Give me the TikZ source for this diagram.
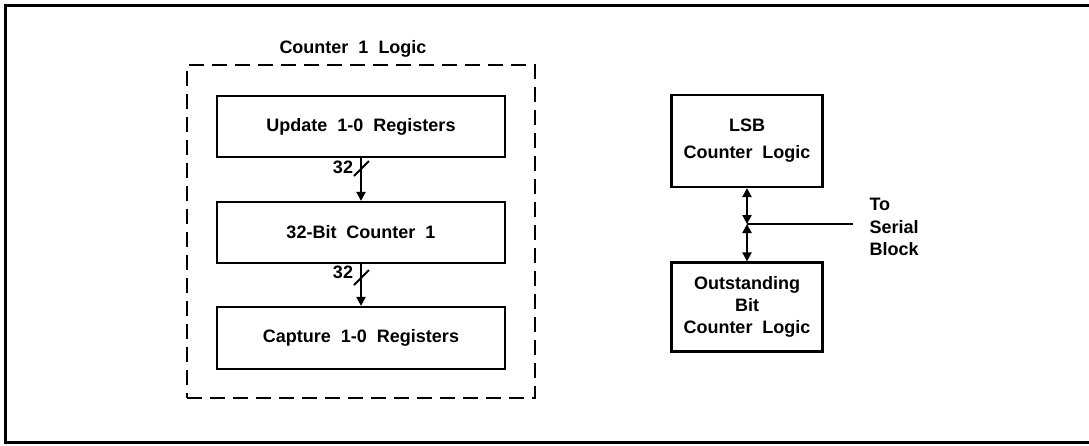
\documentclass[tikz,border=0pt]{standalone}
\usepackage{fontspec}
\setmainfont{Liberation Sans}[WordSpace=2]
\usetikzlibrary{arrows.meta}
\begin{document}
\begin{tikzpicture}[x=1pt,y=-1pt,
  every node/.style={font=\fontsize{18}{22}\selectfont\bfseries},
  block/.style={draw,line width=2.2pt,rectangle,inner sep=0pt,align=center},
  wide/.style={block,minimum width=288pt,minimum height=61pt},
  side/.style={block,minimum width=151pt},
  group/.style={draw,line width=2.2pt,dash pattern=on 15pt off 8pt,minimum width=348pt,minimum height=333pt,inner sep=0pt},
  bus/.style={line width=2.2pt,-{Triangle[length=9pt,width=9pt]}},
  bibus/.style={line width=2.2pt,{Triangle[length=9pt,width=9pt]}-{Triangle[length=9pt,width=9pt]}},
  tick/.style={line width=2pt}]
\useasboundingbox (0,0) rectangle (1089,445);
% outer frame
\draw[line width=3pt] (5,5) rectangle (1096,442);

% counter 1 group
\node[group] (grp) at (361,231.5) {};
\node (grptitle) at (353,49) {Counter 1 Logic};
\node[wide] (upd) at (361,126.5) {Update 1-0 Registers};
\node[wide] (cnt) at (361,232.5) {32-Bit Counter 1};
\node[wide,minimum height=62pt] (cap) at (361,338) {Capture 1-0 Registers};

\draw[bus] (upd.south) -- (cnt.north);
\draw[bus] (cnt.south) -- (cap.north);
% bus width marks
\draw[tick] (354,176) -- (369,161);
\node (w1) at (343,167) {32};
\draw[tick] (354,285) -- (369,270);
\node (w2) at (343,272) {32};

% right-hand blocks
\node[side,minimum height=92pt] (lsb) at (747,141) {LSB\\[5pt]Counter Logic};
\node[side,minimum height=89pt] (osb) at (747,307) {Outstanding\\Bit\\Counter Logic};
\coordinate (j) at (747,224);
\coordinate (ser) at (853,224);
\draw[bibus] (lsb.south) -- (j);
\draw[bibus] (j) -- (osb.north);
\draw[line width=2.2pt] (j) -- (ser);
\node[anchor=west,align=left,font=\fontsize{18}{22.5}\selectfont\bfseries] (sertxt) at (866,227) {To\\Serial\\Block};
\end{tikzpicture}
\end{document}
